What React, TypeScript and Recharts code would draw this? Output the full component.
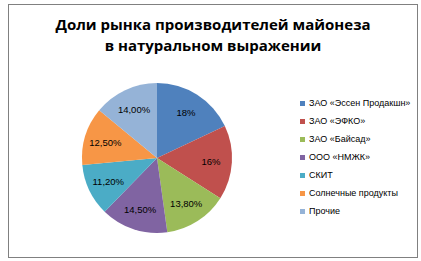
import React from 'react';
import { PieChart, Pie, Cell, Legend } from 'recharts';

const companies = [
  'ЗАО «Эссен Продакшн»',
  'ЗАО «ЭФКО»',
  'ЗАО «Байсад»',
  'ООО «НМЖК»',
  'СКИТ',
  'Солнечные продукты',
  'Прочие',
];
const shares = [18, 16, 13.8, 14.5, 11.2, 12.5, 14.0];
const shareLabels = ['18%', '16%', '13,80%', '14,50%', '11,20%', '12,50%', '14,00%'];
const colors = ['#4F81BD', '#C0504D', '#9BBB59', '#8064A2', '#4BACC6', '#F79646', '#95B3D7'];

const data = companies.map((name, i) => ({ name, value: shares[i], label: shareLabels[i] }));

const RADIAN = Math.PI / 180;

const renderLabel = (props: any) => {
  const { cx, cy, midAngle, outerRadius, index } = props;
  const r = outerRadius * 0.72;
  const x = cx + r * Math.cos(-midAngle * RADIAN);
  const y = cy + r * Math.sin(-midAngle * RADIAN);
  return (
    <text x={x} y={y} fill="#000" fontSize={9.5} fontFamily="'Liberation Sans', Arial, sans-serif"
      textAnchor="middle" dominantBaseline="central">
      {data[index].label}
    </text>
  );
};

const renderLegend = () => (
  <div style={{ fontFamily: "'Liberation Sans', Arial, sans-serif", fontSize: 9, color: '#000' }}>
    {data.map((d, i) => (
      <div key={d.name} style={{ display: 'flex', alignItems: 'center', height: 18 }}>
        <span style={{ width: 5, height: 5, background: colors[i], marginRight: 4, display: 'inline-block' }} />
        {d.name}
      </div>
    ))}
  </div>
);

export default function App() {
  return (
    <div style={{ position: 'fixed', left: 0, top: 0, width: 421, height: 261, background: '#fff' }}>
      <div style={{
        position: 'absolute', left: 8, top: 4, width: 410, height: 254,
        border: '1px solid #808080', boxSizing: 'border-box',
      }} />
      <div style={{
        position: 'absolute', left: 8, top: 14, width: 410, textAlign: 'center',
        fontFamily: "'Open Sans', sans-serif", fontWeight: 700, fontSize: 15, lineHeight: '21px', color: '#000',
      }}>
        Доли рынка производителей майонеза<br />в натуральном выражении
      </div>
      <PieChart width={421} height={261} style={{ position: 'absolute', left: 0, top: 0 }}>
        <Pie
          data={data}
          dataKey="value"
          nameKey="name"
          cx={152}
          cy={153}
          outerRadius={75}
          startAngle={90}
          endAngle={-270}
          stroke="none"
          label={renderLabel}
          labelLine={false}
          isAnimationActive={false}
        >
          {data.map((d, i) => (
            <Cell key={d.name} fill={colors[i]} />
          ))}
        </Pie>
        <Legend
          layout="vertical"
          align="right"
          verticalAlign="top"
          content={renderLegend}
          wrapperStyle={{ left: 300, top: 94, width: 118 }}
        />
      </PieChart>
    </div>
  );
}
